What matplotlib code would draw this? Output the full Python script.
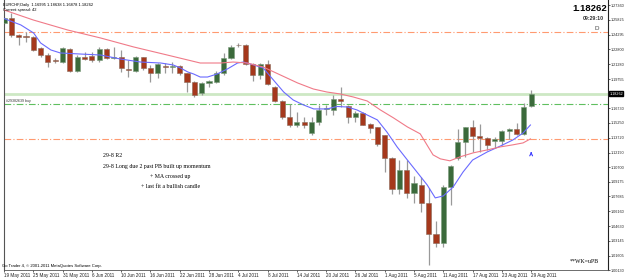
import matplotlib
matplotlib.use("Agg")
import matplotlib.pyplot as plt
import numpy as np

# ---------------- data ----------------
date_labels = ["19 May 2011", "25 May 2011", "31 May 2011", "6 Jun 2011", "10 Jun 2011",
               "16 Jun 2011", "22 Jun 2011", "28 Jun 2011", "4 Jul 2011", "8 Jul 2011",
               "14 Jul 2011", "20 Jul 2011", "26 Jul 2011", "1 Aug 2011", "5 Aug 2011",
               "11 Aug 2011", "17 Aug 2011", "23 Aug 2011", "29 Aug 2011"]
date_label_bars = [0, 4, 8, 12, 16, 20, 24, 28, 32, 36, 40, 44, 48, 52, 56, 60, 64, 68, 72]

opens = [1.2548, 1.2599, 1.2428, 1.2415, 1.2410, 1.2291, 1.2222, 1.2171, 1.2153, 1.2281,
         1.2061, 1.2205, 1.2212, 1.2171, 1.2281, 1.2188, 1.2199, 1.2073, 1.2061, 1.2199,
         1.2086, 1.2040, 1.2112, 1.2096, 1.2110, 1.2034, 1.1948, 1.1829, 1.1931, 1.1948,
         1.2034, 1.2188, 1.2325, 1.2325, 1.2127, 1.2017, 1.2127, 1.1890, 1.1750, 1.1588,
         1.1503, 1.1531, 1.1418, 1.1531, 1.1666, 1.1658, 1.1767, 1.1698, 1.1582, 1.1629,
         1.1510, 1.1479, 1.1400, 1.1167, 1.0845, 1.1041, 1.0807, 1.0887, 1.0698, 1.0380,
         1.0294, 1.0869, 1.1161, 1.1325, 1.1479, 1.1390, 1.1366, 1.1342, 1.1342, 1.1441,
         1.1462, 1.1408, 1.16995]
highs = [1.2616, 1.2651, 1.2433, 1.2462, 1.2418, 1.2308, 1.2240, 1.2188, 1.2308, 1.2291,
         1.2222, 1.2256, 1.2256, 1.2308, 1.2291, 1.2308, 1.2274, 1.2171, 1.2212, 1.2205,
         1.2120, 1.2137, 1.2137, 1.2153, 1.2120, 1.2040, 1.1958, 1.1948, 1.1965, 1.2061,
         1.2240, 1.2325, 1.2342, 1.2335, 1.2137, 1.2137, 1.2171, 1.1904, 1.1760, 1.1719,
         1.1640, 1.1588, 1.1588, 1.1709, 1.1709, 1.1811, 1.1890, 1.1709, 1.1650, 1.1640,
         1.1527, 1.1482, 1.1400, 1.1177, 1.1143, 1.1143, 1.0979, 1.0966, 1.0853, 1.0520,
         1.0887, 1.1092, 1.1459, 1.1486, 1.1554, 1.1513, 1.1383, 1.1383, 1.1452, 1.1469,
         1.1520, 1.1732, 1.18638]
lows = [1.2541, 1.2410, 1.2325, 1.2359, 1.2266, 1.2205, 1.2102, 1.2137, 1.2137, 1.2051,
        1.2051, 1.2171, 1.2153, 1.2153, 1.2178, 1.2178, 1.2051, 1.1999, 1.2051, 1.2068,
        1.1948, 1.1983, 1.2034, 1.2034, 1.2017, 1.1845, 1.1794, 1.1811, 1.1897, 1.1931,
        1.2017, 1.2178, 1.2301, 1.2116, 1.1958, 1.1973, 1.1914, 1.1742, 1.1562, 1.1486,
        1.1486, 1.1469, 1.1400, 1.1503, 1.1606, 1.1606, 1.1691, 1.1520, 1.1537, 1.1500,
        1.1418, 1.1287, 1.1023, 1.0794, 1.0794, 1.0750, 1.0705, 1.0612, 1.0065, 1.0253,
        1.0253, 1.0681, 1.1143, 1.1177, 1.1230, 1.1230, 1.1246, 1.1264, 1.1298, 1.1356,
        1.1400, 1.1400, 1.16878]
closes = [1.2599, 1.2428, 1.2410, 1.2410, 1.2274, 1.2222, 1.2153, 1.2161, 1.2291, 1.2061,
          1.2205, 1.2181, 1.2171, 1.2281, 1.2188, 1.2199, 1.2086, 1.2068, 1.2199, 1.2086,
          1.2040, 1.2130, 1.2096, 1.2110, 1.2034, 1.1948, 1.1811, 1.1931, 1.1955, 1.2040,
          1.2188, 1.2308, 1.2322, 1.2127, 1.2017, 1.2127, 1.1921, 1.1750, 1.1588, 1.1503,
          1.1531, 1.1503, 1.1537, 1.1658, 1.1676, 1.1767, 1.1753, 1.1582, 1.1629, 1.1506,
          1.1475, 1.1308, 1.1167, 1.0845, 1.1041, 1.0807, 1.0904, 1.0698, 1.0380, 1.0294,
          1.0869, 1.1082, 1.1325, 1.1479, 1.1390, 1.1366, 1.1298, 1.1356, 1.1441, 1.1462,
          1.1408, 1.1685, 1.18262]

fast_ma_bars = [0, 2.3, 4.05, 5, 6.4, 7.7, 10.5, 13.2, 15.9, 18.65, 21.4, 23.1, 24.1, 25.1,
                25.9, 26.8, 27.8, 29.1, 30.5, 31.9, 32.7, 34.1, 35.4, 36.8, 38.2, 39.5, 40.9,
                42.3, 44.1, 45.5, 46.9, 48.2, 49.6, 51, 52.3, 53.7, 55.1, 56.4, 57.8, 58.9,
                60, 61.35, 62.7, 64, 66, 67.8, 69.5, 70.9, 71.9]
fast_ma_vals = [1.2597, 1.2531, 1.2448, 1.2346, 1.2274, 1.2243, 1.2232, 1.2222, 1.2181, 1.2150,
                1.2140, 1.2120, 1.2089, 1.2048, 1.2027, 1.1996, 1.1996, 1.2027, 1.2078, 1.2140,
                1.2150, 1.2120, 1.2089, 1.1965, 1.1842, 1.1760, 1.1709, 1.1668, 1.1668, 1.1693,
                1.1688, 1.1658, 1.1606, 1.1555, 1.1431, 1.1277, 1.1143, 1.1020, 1.0887, 1.0754,
                1.0774, 1.0866, 1.1020, 1.1143, 1.1226, 1.1287, 1.1349, 1.1421, 1.1503]

slow_ma_bars = [0, 4, 8.7, 13.2, 17.7, 22.3, 26.8, 29.6, 31.3, 33.2, 35.4, 37.75, 40.1, 42.25,
                44.1, 45.9, 47.7, 49.6, 51.4, 53.2, 55.1, 56.85, 58.6, 59.6, 60.9, 62.3, 64.1,
                66, 67.8, 69.5, 70.9, 71.9]
slow_ma_vals = [1.2685, 1.2582, 1.2479, 1.2397, 1.2305, 1.2222, 1.2140, 1.2140, 1.2150, 1.2140,
                1.2099, 1.2017, 1.1935, 1.1873, 1.1842, 1.1822, 1.1791, 1.1750, 1.1658, 1.1576,
                1.1483, 1.1412, 1.1196, 1.1155, 1.1135, 1.1176, 1.1217, 1.1247, 1.1278, 1.1299,
                1.1319, 1.1360]

price_ticks = [1.27360, 1.25825, 1.24295, 1.22800, 1.21280, 1.19755, 1.16730, 1.15250,
               1.13720, 1.12190, 1.10700, 1.09175, 1.07685, 1.06160, 1.04630, 1.03145,
               1.01605, 1.00130]
price_tick_labels = ["1.27360", "1.25825", "1.24295", "1.22800", "1.21280", "1.19755",
                     "1.16730", "1.15250", "1.13720", "1.12190", "1.10700", "1.09175",
                     "1.07685", "1.06160", "1.04630", "1.03145", "1.01605", "1.00130"]

bid_price = 1.18262
upper_level = 1.2456
order_level = 1.1716
lower_level = 1.1356
arrow_bar = 72
arrow_price = 1.1226

header_text = "EURCHF,Daily  1.16995 1.18638 1.16878 1.18262"
spread_text = "Current spread: 42"
clock_text = "09:29:10"
order_text = "#29382639 buy"
notes = ["29-8 R2", "29-8 Long due 2 past PB built up momentum",
         "+ MA crossed up", "+ last fit a bullish candle"]

# ---------------- figure ----------------
W, H = 625, 279
fig = plt.figure(figsize=(W / 100, H / 100), dpi=100)
fig.patch.set_facecolor("white")
ax = fig.add_axes([4 / W, 9 / H, 604 / W, 270 / H])
ax.set_facecolor("white")

bull_c = "#3b6a3b"
bear_c = "#a5381c"
wick_c = "#999999"

n = len(opens)
idx = np.arange(n)
o = np.array(opens); h = np.array(highs); l = np.array(lows); c = np.array(closes)
up = c >= o
min_h = 0.0006

ax.vlines(idx, l, h, color=wick_c, lw=0.9, zorder=2)
bottoms = np.minimum(o, c)
heights = np.maximum(np.abs(c - o), min_h)
ax.bar(idx[up], heights[up], bottom=bottoms[up], width=0.7, color=bull_c,
       edgecolor="#7a9a7a", linewidth=0.4, zorder=3)
ax.bar(idx[~up], heights[~up], bottom=bottoms[~up], width=0.7, color=bear_c,
       edgecolor="#8a6a5a", linewidth=0.4, zorder=3)

ax.plot(fast_ma_bars, fast_ma_vals, color="#6a6aff", lw=0.8, zorder=4)
ax.plot(slow_ma_bars, slow_ma_vals, color="#f07a88", lw=0.8, zorder=4)

# horizontal levels
ax.axhline(upper_level, color="#ff9a70", lw=0.8, ls=(0, (6, 2, 1, 2)), zorder=1)
ax.axhline(lower_level, color="#ff9a70", lw=0.8, ls=(0, (6, 2, 1, 2)), zorder=1)
ax.axhline(order_level, color="#5fbf5f", lw=0.8, ls=(0, (6, 2, 1, 2)), zorder=1)
ax.axhline(bid_price, color="#cde8c4", lw=2.0, zorder=1)

ax.text(0.3, order_level + 0.0012, order_text, fontsize=2.6, color="#333333",
        family="Liberation Sans", va="bottom", ha="left")

# arrow
ax.annotate("", xy=(arrow_bar, arrow_price + 0.003), xytext=(arrow_bar, arrow_price - 0.004),
            arrowprops=dict(arrowstyle="->", color="#3a3aff", lw=0.8, mutation_scale=5))

# notes (serif)
ax.text(13.5, 1.1186, notes[0], fontsize=4.2, family="Liberation Serif", va="center")
ax.text(13.5, 1.1078, notes[1], fontsize=4.2, family="Liberation Serif", va="center")
ax.text(19.9, 1.0977, notes[2], fontsize=4.2, family="Liberation Serif", va="center")
ax.text(18.7, 1.0874, notes[3], fontsize=4.2, family="Liberation Serif", va="center")

ax.text(0.985, 0.03, "**WK=uPB", transform=ax.transAxes, fontsize=4.2,
        family="Liberation Serif", ha="right", va="center")

# limits
x_left = (4 - 3.3) / 7.33
x_right = (608 - 3.3) / 7.33
ax.set_xlim(x_left, x_right)
ax.set_ylim(1.00131, 1.27874)

# axes styling
ax.spines["top"].set_visible(False)
ax.spines["left"].set_color("#555555")
ax.spines["left"].set_linewidth(0.8)
ax.spines["right"].set_color("#222222")
ax.spines["right"].set_linewidth(0.8)
ax.spines["bottom"].set_color("#555555")
ax.spines["bottom"].set_linewidth(0.6)

ax.yaxis.tick_right()
ax.set_yticks(price_ticks)
ax.set_yticklabels(price_tick_labels, fontsize=2.7, family="Liberation Sans")
ax.tick_params(axis="y", length=1.5, width=0.5, pad=0.6, colors="#222222")

ax.set_xticks(date_label_bars)
ax.set_xticklabels(date_labels, fontsize=3.3, family="Liberation Sans", ha="left")
ax.tick_params(axis="x", length=1.5, width=0.5, pad=0.5, colors="#222222")

# current price label on the axis
ax.text(1.002, bid_price, "1.18262", transform=ax.get_yaxis_transform(), fontsize=2.7,
        family="Liberation Sans", color="white", va="center", ha="left",
        bbox=dict(boxstyle="square,pad=0.12", fc="black", ec="black"))

# top texts
fig.text(3 / W, 1 - 5 / H, header_text, fontsize=2.9, family="Liberation Sans", va="center")
fig.text(3 / W, 1 - 10.5 / H, spread_text, fontsize=2.9, family="Liberation Sans", va="center")
fig.text(607 / W, 1 - 8.5 / H, "1.18262", fontsize=6.8, weight="bold",
         family="Liberation Sans", ha="right", va="center")
fig.text(604 / W, 1 - 19 / H, clock_text, fontsize=3.8, weight="bold",
         family="Liberation Sans", ha="right", va="center", color="#333333")
fig.text(597 / W, 1 - 28 / H, "D", fontsize=4.5, family="Liberation Sans",
         ha="center", va="center", color="#444444")
fig.text(2 / W, 1 - 266 / H, "Go Trader 4, \u00a9 2001-2011 MetaQuotes Software Corp.",
         fontsize=3.0, family="Liberation Sans", va="center")

fig.savefig("out.png", dpi=100)
